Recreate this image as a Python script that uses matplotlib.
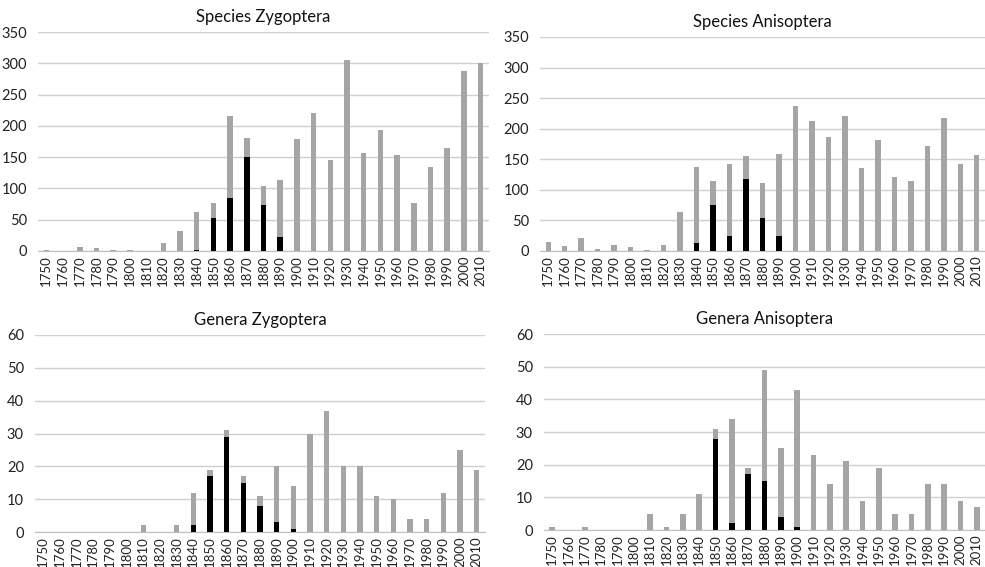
import numpy as np
import matplotlib
matplotlib.use("Agg")
import matplotlib.pyplot as plt

plt.rcParams['font.family'] = ['Lato', 'DejaVu Sans']

decades = [str(y) for y in range(1750, 2011, 10)]

# Species Zygoptera: total (grey) and black part
sp_zyg_total = [2, 0, 6, 4, 2, 1, 0, 12, 32, 62, 77, 215, 180, 104, 113,
                179, 221, 145, 305, 157, 194, 154, 76, 134, 165, 287, 301]
sp_zyg_black = [0, 0, 0, 0, 0, 0, 0, 0, 0, 2, 52, 84, 151, 74, 22,
                0, 0, 0, 0, 0, 0, 0, 0, 0, 0, 0, 0]

# Species Anisoptera
sp_ani_total = [14, 8, 22, 4, 10, 7, 2, 9, 63, 137, 114, 142, 155, 111, 159,
                237, 213, 186, 221, 136, 181, 121, 115, 171, 218, 143, 157]
sp_ani_black = [0, 0, 0, 0, 0, 0, 0, 0, 0, 13, 75, 24, 117, 54, 25,
                0, 0, 0, 0, 0, 0, 0, 0, 0, 0, 0, 0]

# Genera Zygoptera
ge_zyg_total = [0, 0, 0, 0, 0, 0, 2, 0, 2, 12, 19, 31, 17, 11, 20,
                14, 30, 37, 20, 20, 11, 10, 4, 4, 12, 25, 19]
ge_zyg_black = [0, 0, 0, 0, 0, 0, 0, 0, 0, 2, 17, 29, 15, 8, 3,
                1, 0, 0, 0, 0, 0, 0, 0, 0, 0, 0, 0]

# Genera Anisoptera
ge_ani_total = [1, 0, 1, 0, 0, 0, 5, 1, 5, 11, 31, 34, 19, 49, 25,
                43, 23, 14, 21, 9, 19, 5, 5, 14, 14, 9, 7]
ge_ani_black = [0, 0, 0, 0, 0, 0, 0, 0, 0, 0, 28, 2, 17, 15, 4,
                1, 0, 0, 0, 0, 0, 0, 0, 0, 0, 0, 0]

W, H = 985, 567
fig = plt.figure(figsize=(W/100, H/100), dpi=100)

def px_axes(x0, x1, ytop, ybot):
    return fig.add_axes([x0/W, 1 - ybot/H, (x1 - x0)/W, (ybot - ytop)/H])

def panel(ax, title, total, black, ymax, step):
    x = np.arange(len(decades))
    ax.bar(x, total, width=0.33, color="#a5a5a5", zorder=2)
    ax.bar(x, black, width=0.33, color="#000000", zorder=3)
    ax.set_xlim(-0.5, len(decades) - 0.5)
    ax.set_ylim(0, ymax)
    ax.set_yticks(np.arange(0, ymax + 1, step))
    ax.set_xticks(x)
    ax.set_xticklabels(decades, rotation=90, fontsize=9.5, color="#222222")
    ax.tick_params(axis='y', labelsize=10.5, colors="#222222", length=0, pad=8)
    ax.tick_params(axis='x', length=0, pad=3)
    ax.grid(axis='y', color="#d0d0d0", linewidth=1, zorder=0)
    for s in ['top', 'right', 'left']:
        ax.spines[s].set_visible(False)
    ax.spines['bottom'].set_color("#bfbfbf")
    ax.set_title(title, fontsize=12, color="#111111", pad=7)

ax1 = px_axes(38, 489, 32, 251)
panel(ax1, "Species Zygoptera", sp_zyg_total, sp_zyg_black, 350, 50)

ax2 = px_axes(540, 985, 37, 251)
panel(ax2, "Species Anisoptera", sp_ani_total, sp_ani_black, 350, 50)

ax3 = px_axes(35, 485, 335, 532)
panel(ax3, "Genera Zygoptera", ge_zyg_total, ge_zyg_black, 60, 10)

ax4 = px_axes(544, 985, 334, 530)
panel(ax4, "Genera Anisoptera", ge_ani_total, ge_ani_black, 60, 10)

fig.savefig("out.png", dpi=100)
